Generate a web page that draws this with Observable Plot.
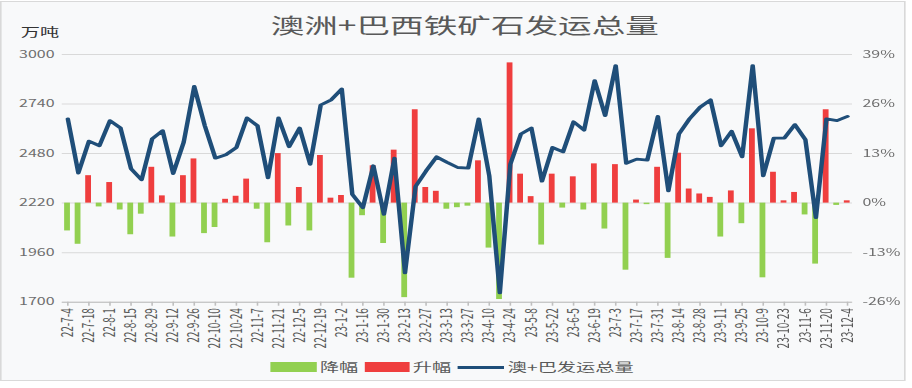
<!DOCTYPE html>
<html><head><meta charset="utf-8">
<script src="https://cdn.jsdelivr.net/npm/d3@7"></script>
<script src="https://cdn.jsdelivr.net/npm/@observablehq/plot@0.6"></script>
<style>
html,body{margin:0;padding:0;background:#ffffff;}
#stage{position:relative;width:570px;height:388px;transform:scaleX(1.6);transform-origin:0 0;font-family:"Noto Sans CJK SC","Noto Sans",sans-serif;color:#595959;}
#box{position:absolute;left:0;top:1px;width:565.6px;height:380px;background:#f8f9fa;border:1px solid #d9d9d9;box-sizing:border-box;}
#title{position:absolute;left:0;top:12px;width:581px;text-align:center;font-size:21px;line-height:24px;color:#595959;white-space:nowrap;}
#unit{position:absolute;left:13px;top:25px;font-size:12px;line-height:14px;color:#333;}
#chart{position:absolute;left:0;top:0;}
#legend{position:absolute;left:168.75px;top:360px;display:flex;align-items:center;font-size:12px;line-height:14px;color:#595959;white-space:nowrap;}
.sw{display:inline-block;height:10px;}
</style>
</head><body>
<div id="stage">
  <div id="box"></div>
  <div id="title">澳洲+巴西铁矿石发运总量</div>
  <div id="unit">万吨</div>
  <div id="chart"></div>
  <div id="legend">
    <span class="sw" style="width:29.4px;background:#92d050;margin-right:1.8px"></span><span style="margin-right:4px">降幅</span>
    <span class="sw" style="width:28px;background:#ef3e3e;margin-right:2px"></span><span style="margin-right:4px">升幅</span>
    <span class="sw" style="width:29.4px;height:3px;background:#1f4e79;margin-right:2px"></span><span>澳+巴发运总量</span>
  </div>
</div>
<script>
const weeks = ["22-7-4","22-7-11","22-7-18","22-7-25","22-8-1","22-8-8","22-8-15","22-8-22","22-8-29","22-9-5","22-9-12","22-9-19","22-9-26","22-10-3","22-10-10","22-10-17","22-10-24","22-10-31","22-11-7","22-11-14","22-11-21","22-11-28","22-12-5","22-12-12","22-12-19","22-12-26","23-1-2","23-1-9","23-1-16","23-1-23","23-1-30","23-2-6","23-2-13","23-2-20","23-2-27","23-3-6","23-3-13","23-3-20","23-3-27","23-4-3","23-4-10","23-4-17","23-4-24","23-5-1","23-5-8","23-5-15","23-5-22","23-5-29","23-6-5","23-6-12","23-6-19","23-6-26","23-7-3","23-7-10","23-7-17","23-7-24","23-7-31","23-8-7","23-8-14","23-8-21","23-8-28","23-9-4","23-9-11","23-9-18","23-9-25","23-10-2","23-10-9","23-10-16","23-10-23","23-10-30","23-11-6","23-11-13","23-11-20","23-11-27","23-12-4"];
// 澳+巴发运总量 (万吨)
const shipments = [2662,2378,2545,2521,2653,2614,2400,2342,2557,2600,2375,2540,2832,2626,2456,2474,2512,2667,2626,2353,2667,2516,2614,2424,2735,2762,2819,2266,2196,2416,2161,2456,1854,2307,2389,2463,2434,2407,2404,2662,2363,1749,2424,2583,2614,2335,2512,2489,2647,2603,2863,2679,2942,2429,2451,2446,2675,2284,2583,2662,2723,2762,2521,2597,2463,2942,2363,2561,2561,2632,2553,2144,2662,2653,2675];
// 周环比 (%)
const changePct = [-7.3,-10.8,7.2,-1.0,5.4,-1.8,-8.3,-2.9,9.4,1.9,-8.9,7.2,11.6,-8.0,-6.4,1.0,1.8,6.3,-1.6,-10.4,13.0,-6.0,4.1,-7.3,12.5,1.3,2.0,-19.7,-3.3,9.8,-10.6,13.9,-24.8,24.5,4.1,3.1,-1.6,-1.2,-0.8,11.1,-11.8,-25.3,36.8,7.6,1.7,-11.0,7.6,-1.3,6.9,-1.8,10.3,-6.8,10.1,-17.6,0.8,-0.4,9.4,-14.5,13.1,3.7,2.4,1.5,-8.9,3.2,-5.4,19.5,-19.6,8.1,0.6,2.8,-3.1,-16.0,24.5,-0.6,0.6];
const leftTicks = [1700,1960,2220,2480,2740,3000];
const rightTickLabels = ["-26%","-13%","0%","13%","26%","39%"];

// dual axis: right axis 0% aligns with 2220, 13% per 260 万吨
const pctBase = 2220, pctScale = 20;
const rows = weeks.map((w, i) => ({week: w, total: shipments[i], pct: changePct[i]}));
const labelWeeks = weeks.filter((w, i) => i % 2 === 0);

const chart = Plot.plot({
  width: 570,
  height: 360,
  marginLeft: 38.6,
  marginRight: 37.5,
  marginTop: 54,
  marginBottom: 58.3,
  style: {background: "transparent", fontFamily: "'Noto Sans CJK SC','Noto Sans',sans-serif", fontSize: "10px", color: "#595959"},
  x: {type: "band", domain: weeks, paddingInner: 0.45, paddingOuter: 0.225},
  y: {domain: [1700, 3000]},
  marks: [
    Plot.gridY(leftTicks, {stroke: "#d9d9d9", strokeOpacity: 1}),
    Plot.barY(rows, {
      x: "week",
      y1: () => pctBase,
      y2: d => pctBase + d.pct * pctScale,
      fill: d => d.pct < 0 ? "#92d050" : "#ef3e3e"
    }),
    Plot.line(rows, {x: "week", y: "total", stroke: "#1f4e79", strokeWidth: 2.8, strokeLinejoin: "round", strokeLinecap: "round"}),
    Plot.axisY({anchor: "left", ticks: leftTicks, tickSize: 0, tickPadding: 5, label: null, fontSize: 10, fill: "#6e6e6e",
      tickFormat: v => String(v)}),
    Plot.axisY({anchor: "right", ticks: leftTicks, tickSize: 0, tickPadding: 6, label: null, fontSize: 10, fill: "#6e6e6e",
      tickFormat: v => rightTickLabels[leftTicks.indexOf(v)]}),
    Plot.axisX({anchor: "bottom", ticks: labelWeeks, tickRotate: -90, tickSize: 4, tickPadding: 2, label: null, stroke: "#bfbfbf", fontSize: 10, fill: "#595959"}),
    Plot.ruleY([1700], {stroke: "#bfbfbf"})
  ]
});
document.getElementById("chart").appendChild(chart);
</script>
</body></html>
